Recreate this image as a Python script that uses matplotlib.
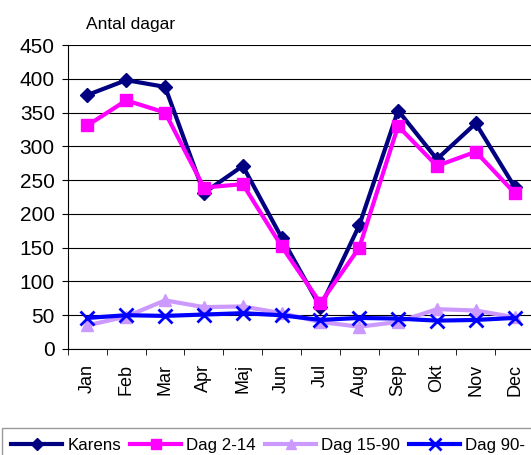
import numpy as np
import matplotlib.pyplot as plt

plt.rcParams['font.family'] = ['Liberation Sans', 'DejaVu Sans']

months = ['Jan', 'Feb', 'Mar', 'Apr', 'Maj', 'Jun', 'Jul', 'Aug', 'Sep', 'Okt', 'Nov', 'Dec']
karens = [376, 398, 388, 231, 271, 165, 62, 183, 353, 281, 334, 240]
dag_2_14 = [331, 368, 350, 239, 244, 152, 68, 150, 330, 271, 292, 231]
dag_15_90 = [35, 48, 72, 62, 63, 53, 40, 33, 40, 59, 57, 47]
dag_90 = [46, 50, 49, 51, 53, 50, 43, 46, 45, 42, 43, 46]

fig = plt.figure(figsize=(5.31, 4.55), dpi=100)
ax = fig.add_axes([68/531, 106/455, 466/531, 304/455])

x = np.arange(len(months))
ax.plot(x, karens, color='#000080', lw=3, marker='D', ms=7, label='Karens')
ax.plot(x, dag_2_14, color='#FF00FF', lw=3, marker='s', ms=9, label='Dag 2-14')
ax.plot(x, dag_15_90, color='#CC99FF', lw=3, marker='^', ms=9, label='Dag 15-90')
ax.plot(x, dag_90, color='#0000FF', lw=3, marker='x', ms=10, mew=2, label='Dag 90-')

ax.set_xlim(-0.5, 11.5)
ax.set_ylim(0, 450)
ax.set_yticks(range(0, 451, 50))
ax.yaxis.grid(True, color='black', lw=0.8)
ax.set_axisbelow(True)
ax.set_xticks(x)
ax.set_xticklabels(months, rotation=90, fontsize=13)
ax.set_xticks(np.arange(-0.5, 12, 1), minor=True)
ax.tick_params(axis='x', which='major', length=0, pad=11)
ax.tick_params(axis='x', which='minor', length=4.5, direction='out')
ax.tick_params(axis='y', labelsize=15, length=4.5, direction='out', pad=5)
for s in ['top', 'right']:
    ax.spines[s].set_visible(False)

fig.text(86/531, 1 - 25/455, 'Antal dagar', fontsize=12.5, va='center', ha='left')

leg = fig.legend(loc='lower left', bbox_to_anchor=(2/531, -0.015), ncol=4, fontsize=12.2,
                 handlelength=3.0, handletextpad=0.3, columnspacing=0.55,
                 markerscale=0.85, frameon=True, fancybox=False, borderpad=0.55,
                 borderaxespad=0)
leg.get_frame().set_edgecolor('#808080')
leg.get_frame().set_linewidth(1)

fig.savefig('out.png', dpi=100)
